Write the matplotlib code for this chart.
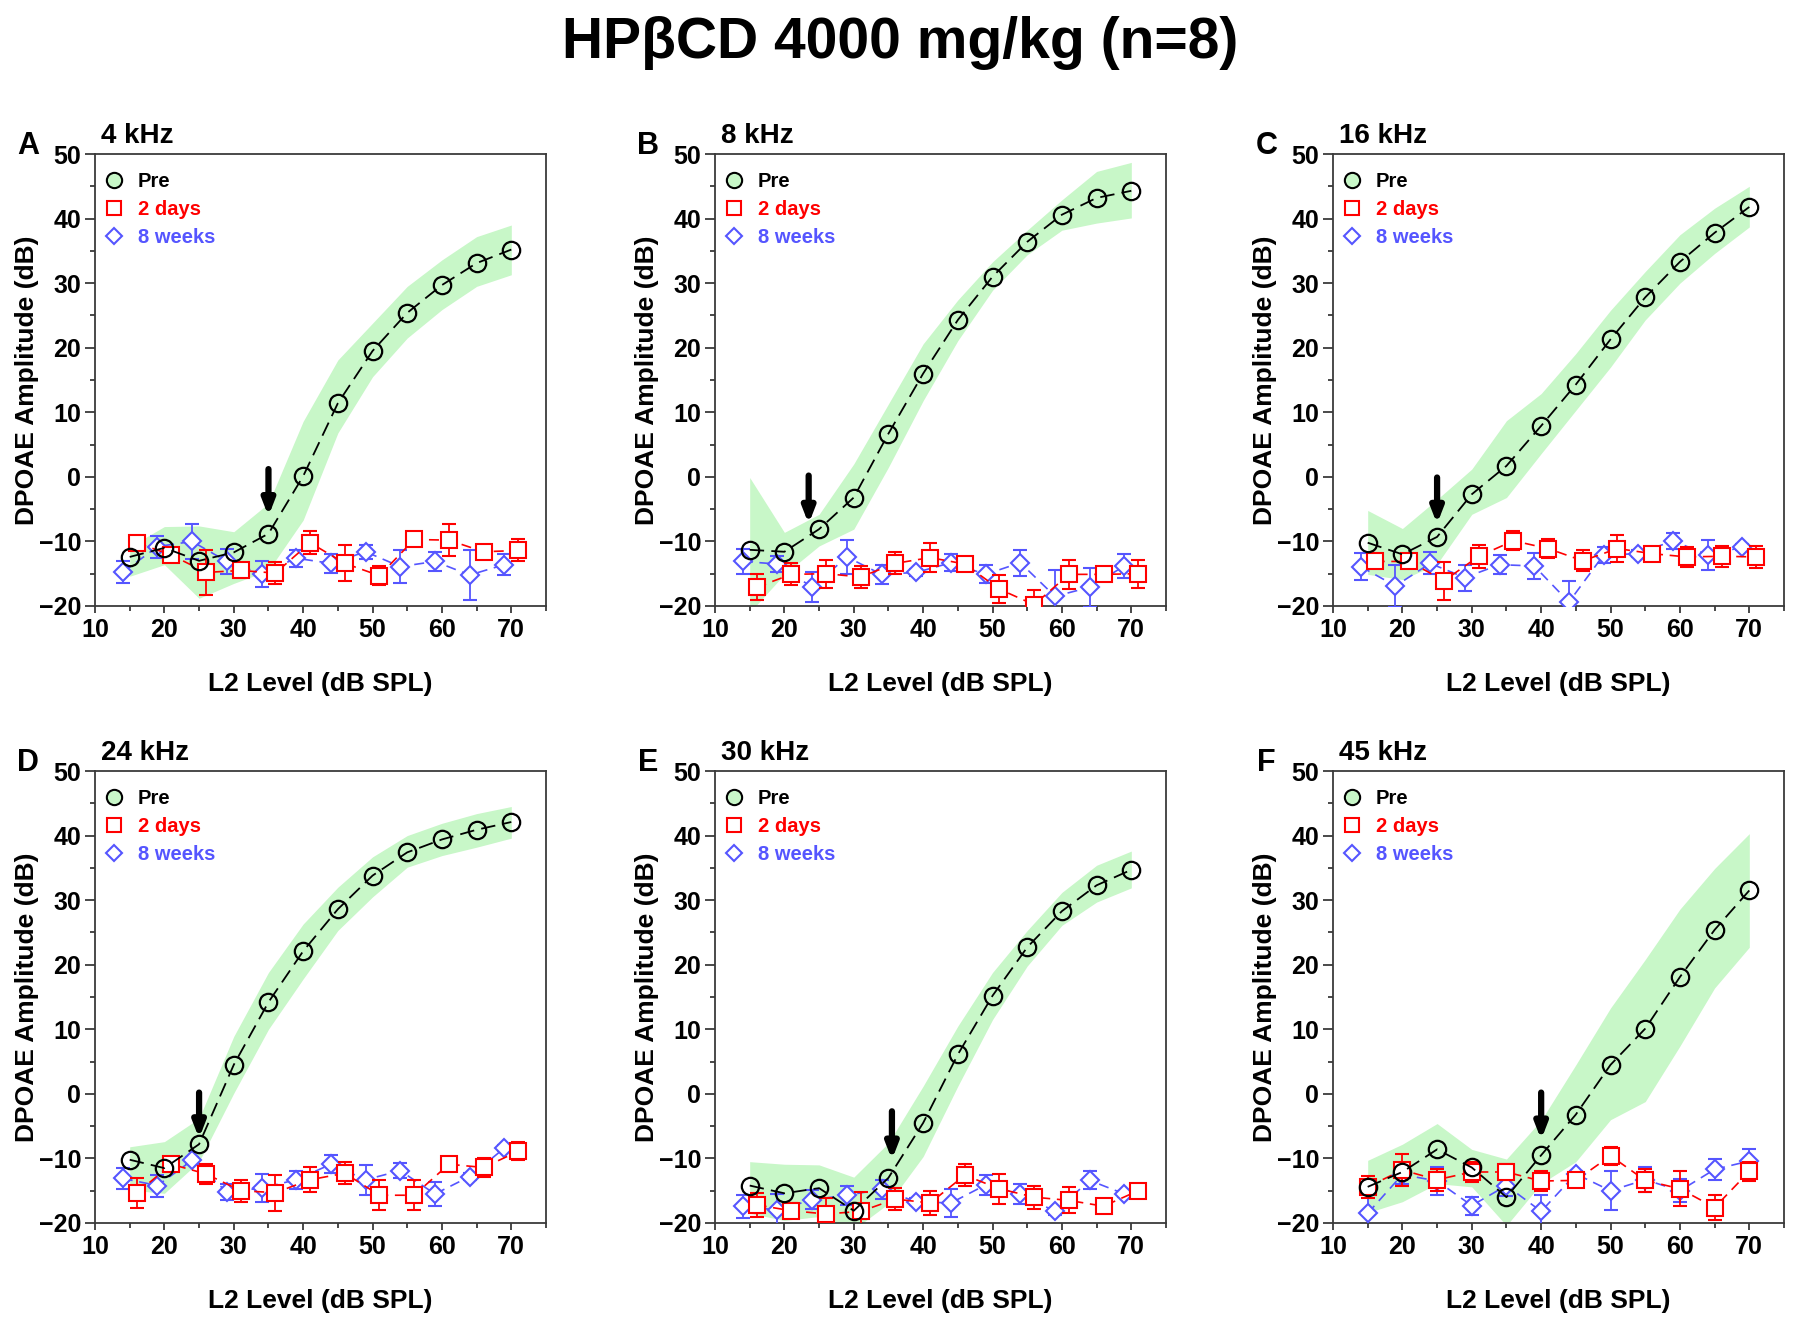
import matplotlib
matplotlib.use("Agg")
import matplotlib.pyplot as plt
from matplotlib.lines import Line2D

plt.rcParams['font.family'] = ['Liberation Sans', 'DejaVu Sans']
plt.rcParams['font.weight'] = 'bold'

# ---------------- data ----------------
levels = [15, 20, 25, 30, 35, 40, 45, 50, 55, 60, 65, 70]
levels_2d = [16, 21, 26, 31, 36, 41, 46, 51, 56, 61, 66, 71]
levels_8w = [14, 19, 24, 29, 34, 39, 44, 49, 54, 59, 64, 69]

panel_letters = ['A', 'B', 'C', 'D', 'E', 'F']
freq_titles = ['4 kHz', '8 kHz', '16 kHz', '24 kHz', '30 kHz', '45 kHz']
series_labels = ['Pre', '2 days', '8 weeks']

# Pre (mean, band low, band high)
pre_A = [-12.4, -11.0, -13.0, -11.7, -8.8, 0.1, 11.4, 19.5, 25.4, 29.7, 33.1, 35.2]
hi_A = [-10.8, -7.7, -7.6, -8.5, -4.1, 8.6, 18.1, 23.8, 29.5, 33.6, 37.2, 39.0]
lo_A = [-15.4, -13.6, -18.8, -16.5, -14.5, -6.7, 6.8, 15.5, 21.5, 25.9, 29.5, 31.3]
pre_B = [-11.3, -11.6, -8.1, -3.2, 6.7, 16.0, 24.3, 31.0, 36.4, 40.6, 43.2, 44.3]
hi_B = [-0.1, -8.6, -5.8, 2.0, 11.3, 20.6, 27.4, 33.3, 38.2, 42.9, 47.3, 48.7]
lo_B = [-21.0, -15.1, -10.7, -8.1, 1.5, 11.8, 21.1, 28.9, 34.4, 38.2, 39.3, 40.1]
pre_C = [-10.2, -12.0, -9.3, -2.7, 1.7, 7.9, 14.3, 21.3, 27.8, 33.3, 37.8, 41.8]
hi_C = [-5.2, -8.0, -3.5, 1.2, 8.7, 12.9, 19.1, 25.8, 31.8, 37.5, 41.6, 45.0]
lo_C = [-15.1, -15.9, -13.5, -5.8, -3.2, 3.6, 10.3, 17.0, 24.3, 30.0, 34.6, 38.7]
pre_D = [-10.2, -11.5, -7.8, 4.5, 14.2, 22.1, 28.6, 33.8, 37.4, 39.4, 40.9, 42.1]
hi_D = [-8.2, -7.4, -3.8, 8.9, 18.8, 26.3, 32.0, 36.7, 40.0, 41.9, 43.4, 44.5]
lo_D = [-14.9, -15.4, -10.5, 0.1, 10.0, 17.8, 25.3, 30.5, 35.1, 36.9, 38.2, 39.6]
pre_E = [-14.2, -15.4, -14.6, -18.1, -13.0, -4.5, 6.1, 15.2, 22.7, 28.3, 32.3, 34.7]
hi_E = [-10.5, -10.9, -11.0, -12.9, -7.6, 1.2, 10.5, 18.8, 25.3, 31.2, 35.4, 37.6]
lo_E = [-18.5, -19.6, -19.0, -21.0, -17.0, -9.7, 1.2, 11.5, 19.8, 26.1, 29.7, 31.9]
pre_F = [-14.4, -12.1, -8.6, -11.4, -16.0, -9.5, -3.2, 4.5, 10.1, 18.1, 25.4, 31.5]
hi_F = [-10.3, -7.8, -4.6, -8.6, -10.1, -4.1, 4.5, 13.3, 20.8, 28.6, 34.9, 40.3]
lo_F = [-18.4, -16.7, -13.9, -14.4, -20.4, -13.9, -10.5, -4.0, -1.2, 7.4, 16.4, 22.7]

# 2 days (mean, error)
d2_A = [-10.2, -12.1, -14.8, -14.5, -14.9, -10.2, -13.4, -15.3, -9.7, -9.8, -11.6, -11.4]
d2e_A = [0.5, 0.9, 3.5, 1.0, 1.7, 1.8, 2.8, 1.5, 0.5, 2.5, 0.5, 1.7]
d2_B = [-17.1, -15.1, -15.0, -15.5, -13.4, -12.5, -13.5, -17.4, -19.8, -15.1, -15.1, -15.0]
d2e_B = [2.0, 1.7, 2.2, 1.7, 1.7, 2.2, 0.5, 2.2, 2.3, 2.2, 0.5, 2.2]
d2_C = [-13.1, -13.1, -16.1, -12.3, -9.9, -11.1, -13.0, -11.1, -11.9, -12.4, -12.3, -12.4]
d2e_C = [0.5, 0.5, 2.9, 1.8, 1.5, 1.4, 1.6, 2.1, 0.5, 1.6, 1.6, 1.7]
d2_D = [-15.4, -10.9, -12.4, -15.0, -15.3, -13.3, -12.3, -15.7, -15.7, -10.9, -11.4, -8.9]
d2e_D = [2.3, 0.5, 1.6, 1.7, 2.8, 1.9, 1.7, 2.3, 2.3, 0.5, 1.5, 1.4]
d2_E = [-17.2, -18.1, -18.6, -18.2, -16.3, -16.9, -12.6, -14.7, -16.0, -16.5, -17.4, -15.0]
d2e_E = [1.9, 1.2, 2.5, 3.0, 1.7, 1.9, 1.7, 2.3, 1.8, 2.0, 0.5, 0.5]
d2_F = [-14.4, -11.8, -13.3, -12.1, -12.1, -13.5, -13.4, -9.6, -13.4, -14.7, -17.6, -12.0]
d2e_F = [1.7, 2.5, 1.7, 1.5, 1.3, 1.5, 0.5, 1.4, 1.8, 2.7, 1.9, 1.5]

# 8 weeks (mean, error)
w8_A = [-14.8, -10.8, -10.0, -13.1, -15.0, -12.6, -13.4, -11.6, -13.9, -13.1, -15.2, -13.6]
w8e_A = [1.7, 1.7, 2.7, 1.9, 2.0, 1.3, 1.5, 1.1, 2.5, 1.5, 3.8, 1.6]
w8_B = [-13.1, -13.5, -17.1, -12.4, -15.1, -14.8, -13.3, -15.1, -13.3, -18.5, -17.1, -13.8]
w8e_B = [1.9, 1.2, 2.3, 2.6, 1.5, 0.5, 1.3, 1.4, 2.0, 4.0, 3.0, 1.9]
w8_C = [-13.9, -16.9, -13.4, -15.6, -13.6, -13.8, -19.4, -12.1, -11.9, -9.9, -12.1, -10.9]
w8e_C = [2.1, 3.3, 1.7, 2.0, 1.5, 2.0, 3.3, 1.3, 0.5, 1.2, 2.3, 0.5]
w8_D = [-13.1, -14.2, -10.3, -15.2, -14.6, -13.3, -10.9, -13.3, -11.9, -15.5, -12.8, -8.4]
w8e_D = [1.6, 1.7, 0.5, 1.3, 2.2, 1.4, 1.4, 2.3, 1.2, 1.8, 0.5, 0.5]
w8_E = [-17.4, -18.0, -16.4, -15.7, -14.8, -16.7, -16.9, -14.1, -15.5, -18.2, -13.4, -15.5]
w8e_E = [1.8, 2.5, 1.5, 1.5, 1.5, 0.5, 2.1, 1.6, 1.5, 0.5, 1.4, 0.5]
w8_F = [-18.5, -12.5, -13.5, -17.3, -14.2, -18.2, -12.4, -15.0, -13.3, -15.0, -11.7, -10.4]
w8e_F = [3.0, 1.4, 2.1, 1.4, 1.6, 2.5, 0.5, 3.0, 1.9, 1.8, 1.6, 1.8]

# threshold arrows (x, tail y, tip y)
arrow_x = [35, 23.5, 25, 25, 35.5, 40]
arrow_tail = [1.2, 0.2, -0.1, 0.2, -2.7, 0.2]
arrow_tip = [-6.1, -7.3, -7.3, -6.9, -10.2, -7.1]

panels = [
    (pre_A, lo_A, hi_A, levels_2d, d2_A, d2e_A, levels_8w, w8_A, w8e_A),
    (pre_B, lo_B, hi_B, levels_2d, d2_B, d2e_B, levels_8w, w8_B, w8e_B),
    (pre_C, lo_C, hi_C, levels_2d, d2_C, d2e_C, levels_8w, w8_C, w8e_C),
    (pre_D, lo_D, hi_D, levels_2d, d2_D, d2e_D, levels_8w, w8_D, w8e_D),
    (pre_E, lo_E, hi_E, levels_2d, d2_E, d2e_E, levels_8w, w8_E, w8e_E),
    (pre_F, lo_F, hi_F, levels, d2_F, d2e_F, levels, w8_F, w8e_F),
]

# ---------------- style ----------------
GREEN = '#c8f7c8'
RED = '#ff0000'
BLUE = '#5555ff'
SPINE = '#3a3a3a'

W, H = 1800, 1326
fig = plt.figure(figsize=(W / 100, H / 100), dpi=100)

col_left = [95, 715, 1333]
row_top = [154, 771]
ax_w, ax_h = 451, 452

fig.text(0.5, 1 - 43 / H, 'HPβCD 4000 mg/kg (n=8)', ha='center', va='center',
         fontsize=41, fontweight='bold')

for i, (pre, lo, hi, x2, d2, d2e, x8, w8, w8e) in enumerate(panels):
    r, c = divmod(i, 3)
    left = col_left[c] / W
    bottom = 1 - (row_top[r] + ax_h) / H
    ax = fig.add_axes([left, bottom, ax_w / W, ax_h / H])

    ax.fill_between(levels, lo, hi, color=GREEN, lw=0, zorder=1)
    ax.errorbar(x8, w8, yerr=w8e, fmt='D', ls=(0, (6, 4)), lw=1.2, color=BLUE,
                mfc='white', mec=BLUE, mew=1.5, ms=9.5, capsize=5, capthick=1.3,
                elinewidth=1.3, zorder=3)
    ax.errorbar(x2, d2, yerr=d2e, fmt='s', ls=(0, (6, 4)), lw=1.2, color=RED,
                mfc='white', mec=RED, mew=1.5, ms=11.5, capsize=5, capthick=1.3,
                elinewidth=1.3, zorder=4)
    ax.plot(levels, pre, ls=(0, (8, 4)), lw=1.3, color='black', marker='o',
            ms=12.5, mfc='none', mec='black', mew=1.6, zorder=5)

    ax.annotate('', xy=(arrow_x[i], arrow_tip[i]), xytext=(arrow_x[i], arrow_tail[i]),
                arrowprops=dict(arrowstyle='-|>,head_width=0.35,head_length=0.9',
                                lw=4.5, color='black', shrinkA=0, shrinkB=0),
                zorder=6)

    ax.set_xlim(10, 75)
    ax.set_ylim(-20, 50)
    ax.set_xticks([10, 20, 30, 40, 50, 60, 70])
    ax.set_xticks([15, 25, 35, 45, 55, 65, 75], minor=True)
    ax.set_yticks([-20, -10, 0, 10, 20, 30, 40, 50])
    ax.set_yticks([-15, -5, 5, 15, 25, 35, 45], minor=True)
    ax.tick_params(which='major', direction='out', width=1.3,
                   labelsize=18, color=SPINE)
    ax.tick_params(axis='x', which='major', length=5, pad=4)
    ax.tick_params(axis='y', which='major', length=7, pad=3)
    ax.tick_params(which='minor', direction='out', length=3.5, width=1.3, color=SPINE)
    for lab in ax.get_xticklabels() + ax.get_yticklabels():
        lab.set_fontweight('bold')
    for sp in ax.spines.values():
        sp.set_color(SPINE)
        sp.set_linewidth(1.3)

    ax.set_xlabel('L2 Level (dB SPL)', fontsize=19, fontweight='bold')
    ax.set_ylabel('DPOAE Amplitude (dB)', fontsize=19, fontweight='bold')
    ax.xaxis.set_label_coords(0.5, -0.145)
    ax.yaxis.set_label_coords(-0.125, 0.5)

    ax.text(0.013, 1.04, freq_titles[i], transform=ax.transAxes, fontsize=20,
            fontweight='bold', ha='left', va='center')
    ax.text(-0.148, 1.018, panel_letters[i], transform=ax.transAxes, fontsize=22,
            fontweight='bold', ha='center', va='center')

    handles = [
        Line2D([], [], ls='none', marker='o', ms=11, mfc=GREEN, mec='black', mew=1.5),
        Line2D([], [], ls='none', marker='s', ms=10, mfc='none', mec=RED, mew=1.5),
        Line2D([], [], ls='none', marker='D', ms=8.5, mfc='none', mec=BLUE, mew=1.5),
    ]
    leg = ax.legend(handles, series_labels, loc='upper left',
                    bbox_to_anchor=(0.0, 0.972), borderaxespad=0.0,
                    frameon=False, handlelength=1.35, handletextpad=0.5,
                    labelspacing=0.45, borderpad=0.28,
                    prop=dict(weight='bold', size=14.5))
    for t, col in zip(leg.get_texts(), ['black', RED, BLUE]):
        t.set_color(col)

fig.savefig('out.png', dpi=100)
